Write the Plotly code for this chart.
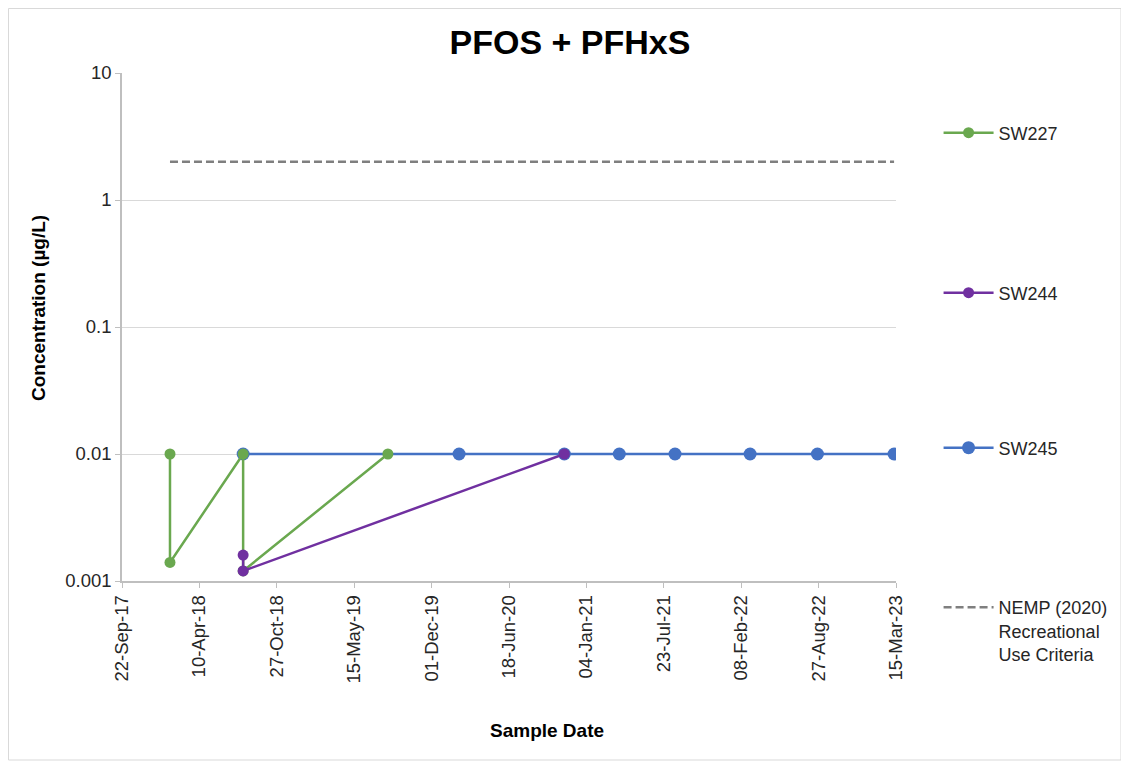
import plotly.graph_objects as go
from datetime import date, timedelta

# ---- data ----
sw227_dates = ["2018-01-24", "2018-01-24", "2018-08-01", "2018-08-01", "2019-08-10"]
sw227_vals = [0.01, 0.0014, 0.01, 0.0012, 0.01]

sw244_dates = ["2018-08-01", "2018-08-01", "2020-11-08"]
sw244_vals = [0.0016, 0.0012, 0.01]

sw245_dates = ["2018-08-01", "2020-02-10", "2020-11-08", "2021-03-30",
               "2021-08-21", "2022-03-03", "2022-08-24", "2023-03-10"]
sw245_vals = [0.01, 0.01, 0.01, 0.01, 0.01, 0.01, 0.01, 0.01]

nemp_dates = ["2018-01-24", "2023-03-10"]
nemp_vals = [2, 2]

tick_start = date(2017, 9, 22)
tick_step_days = 200
n_ticks = 11
tick_dates = [tick_start + timedelta(days=tick_step_days * i) for i in range(n_ticks)]
tick_labels = [d.strftime("%d-%b-%y") for d in tick_dates]

y_ticks = [0.001, 0.01, 0.1, 1, 10]
y_tick_labels = ["0.001", "0.01", "0.1", "1", "10"]

GREEN = "#6AA84F"
PURPLE = "#7030A0"
BLUE = "#4472C4"
GREY = "#7F7F7F"
FONT = "Liberation Sans, Arial, sans-serif"

W, H = 1121, 759
L, T, PW, PH = 114, 65, 774, 508
R = W - L - PW
B = H - T - PH

fig = go.Figure()
fig.add_trace(go.Scatter(x=nemp_dates, y=nemp_vals, mode="lines",
                         name="NEMP (2020)<br>Recreational<br>Use Criteria",
                         line=dict(color=GREY, width=2.5, dash="8px,4px"), legend="legend4"))
fig.add_trace(go.Scatter(x=sw245_dates, y=sw245_vals, mode="lines+markers", name="SW245",
                         line=dict(color=BLUE, width=2.5), marker=dict(size=13, color=BLUE),
                         legend="legend3"))
fig.add_trace(go.Scatter(x=sw227_dates, y=sw227_vals, mode="lines+markers", name="SW227",
                         line=dict(color=GREEN, width=2.5), marker=dict(size=11, color=GREEN),
                         legend="legend"))
fig.add_trace(go.Scatter(x=sw244_dates, y=sw244_vals, mode="lines+markers", name="SW244",
                         line=dict(color=PURPLE, width=2.5), marker=dict(size=11, color=PURPLE),
                         legend="legend2"))

leg_common = dict(xanchor="left", x=1.055, font=dict(family=FONT, size=18, color="#262626"),
                  bgcolor="rgba(0,0,0,0)", itemwidth=50)

def py(pix):  # reference pixel y -> paper y
    return (581 - pix) / 508

def px(pix):  # reference pixel x -> paper x
    return (pix - 122) / 774

fig.update_layout(
    width=W, height=H,
    margin=dict(l=L, r=R, t=T, b=B),
    paper_bgcolor="white", plot_bgcolor="white",
    font=dict(family=FONT, color="#262626"),
    title=dict(text="<b>PFOS + PFHxS</b>", x=(570 - 8) / W, xref="container", xanchor="center",
               y=1 - (42 - 8) / H, yref="container", yanchor="middle",
               font=dict(size=34, color="#000000")),
    showlegend=True,
    legend=dict(**leg_common, y=py(133), yanchor="middle"),
    legend2=dict(**leg_common, y=py(293), yanchor="middle"),
    legend3=dict(**leg_common, y=py(448), yanchor="middle"),
    legend4=dict(**leg_common, y=py(589), yanchor="top", valign="top"),
    xaxis=dict(
        type="date",
        range=[tick_dates[0].isoformat(), tick_dates[-1].isoformat()],
        tickmode="array", tickvals=[d.isoformat() for d in tick_dates], ticktext=tick_labels,
        tickangle=-90, tickfont=dict(size=18.5, color="#262626"),
        showgrid=False, showline=True, linecolor="#BFBFBF", linewidth=1.5,
        ticks="outside", ticklen=5, tickcolor="#BFBFBF",
        zeroline=False,
    ),
    yaxis=dict(
        type="log", range=[-3, 1],
        tickmode="array", tickvals=y_ticks, ticktext=y_tick_labels,
        tickfont=dict(size=18.5, color="#262626"),
        showgrid=True, gridcolor="#D9D9D9", gridwidth=1.2,
        showline=True, linecolor="#BFBFBF", linewidth=1.5,
        ticks="outside", ticklen=5, tickcolor="#BFBFBF",
        zeroline=False,
    ),
    annotations=[
        dict(text="<b>Sample Date</b>", xref="paper", yref="paper", x=px(547), y=py(730),
             xanchor="center", yanchor="middle", showarrow=False,
             font=dict(size=19, color="#000000", family=FONT)),
        dict(text="<b>Concentration (µg/L)</b>", xref="paper", yref="paper", x=px(38), y=py(308),
             xanchor="center", yanchor="middle", showarrow=False, textangle=-90,
             font=dict(size=19, color="#000000", family=FONT)),
    ],
    shapes=[dict(type="rect", xref="paper", yref="paper",
                 x0=(0.5 - L) / PW, x1=(W - 8 - L) / PW,
                 y0=(T + PH - (H - 7)) / PH, y1=(T + PH - 0.5) / PH,
                 line=dict(color="#D9D9D9", width=1), layer="below")],
)

fig.write_html("out.html")
